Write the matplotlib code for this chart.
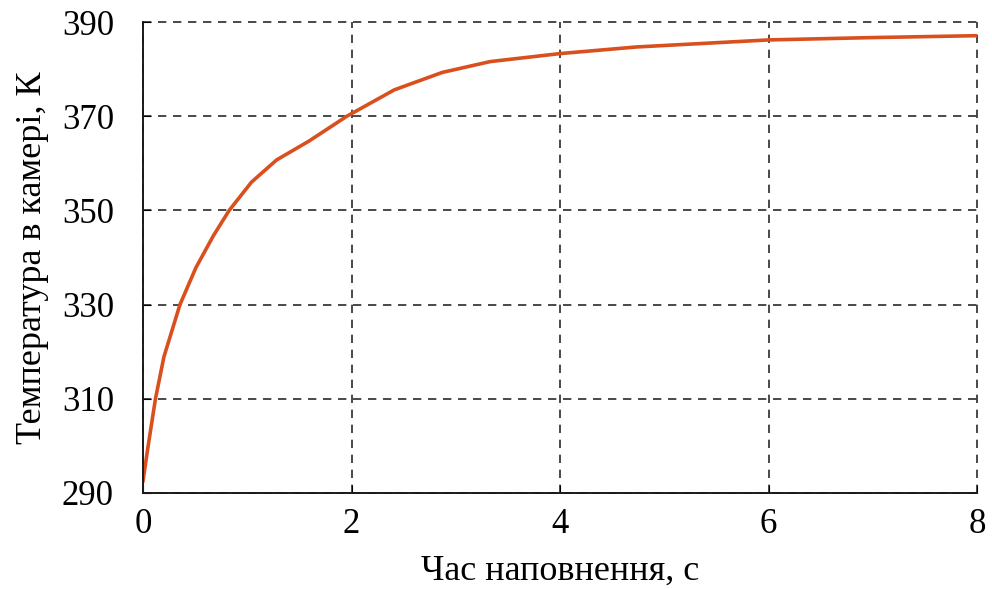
import matplotlib.pyplot as plt
import numpy as np

# values
t = [0, 0.04, 0.119, 0.20, 0.354, 0.506, 0.674, 0.826, 1.04, 1.28, 1.59,
     1.955, 2.41, 2.87, 3.33, 4.0, 4.73, 6.0, 7.0, 8.0]
temp = [292.6, 298.7, 310.0, 318.9, 330.0, 337.8, 344.6, 350.0, 356.0, 360.7, 364.7,
        370.0, 375.6, 379.3, 381.6, 383.3, 384.7, 386.2, 386.7, 387.1]

x_ticks = [0, 2, 4, 6, 8]
y_ticks = [290, 310, 330, 350, 370, 390]

plt.rcParams['font.family'] = ['Liberation Serif', 'DejaVu Serif']

fig = plt.figure(figsize=(9.92, 5.89), dpi=100)
ax = fig.add_axes([0.1442, 0.163, 0.8408, 0.7996])

ax.plot(t, temp, color="#d9501e", lw=2.6, solid_joinstyle="round")

ax.set_xlim(0, 8)
ax.set_ylim(290, 390)
ax.set_xticks(x_ticks)
ax.set_yticks(y_ticks)
ax.grid(True, ls=(0, (5, 4)), color="#2a2a2a", lw=1.2)
for gl in ax.get_xgridlines() + ax.get_ygridlines():
    gl.set_clip_on(False)

for s in ["top", "right"]:
    ax.spines[s].set_visible(False)
for s in ["left", "bottom"]:
    ax.spines[s].set_linewidth(1.4)
    ax.spines[s].set_color("#1a1a1a")

ax.tick_params(axis="x", direction="in", length=6, pad=11, labelsize=25)
ax.tick_params(axis="y", direction="in", length=6, pad=21, labelsize=25)

ax.set_xlabel("Час наповнення, с", fontsize=26, labelpad=10)
ax.set_ylabel("Температура в камері, К", fontsize=26, labelpad=9)

fig.savefig("out.png", dpi=100)
